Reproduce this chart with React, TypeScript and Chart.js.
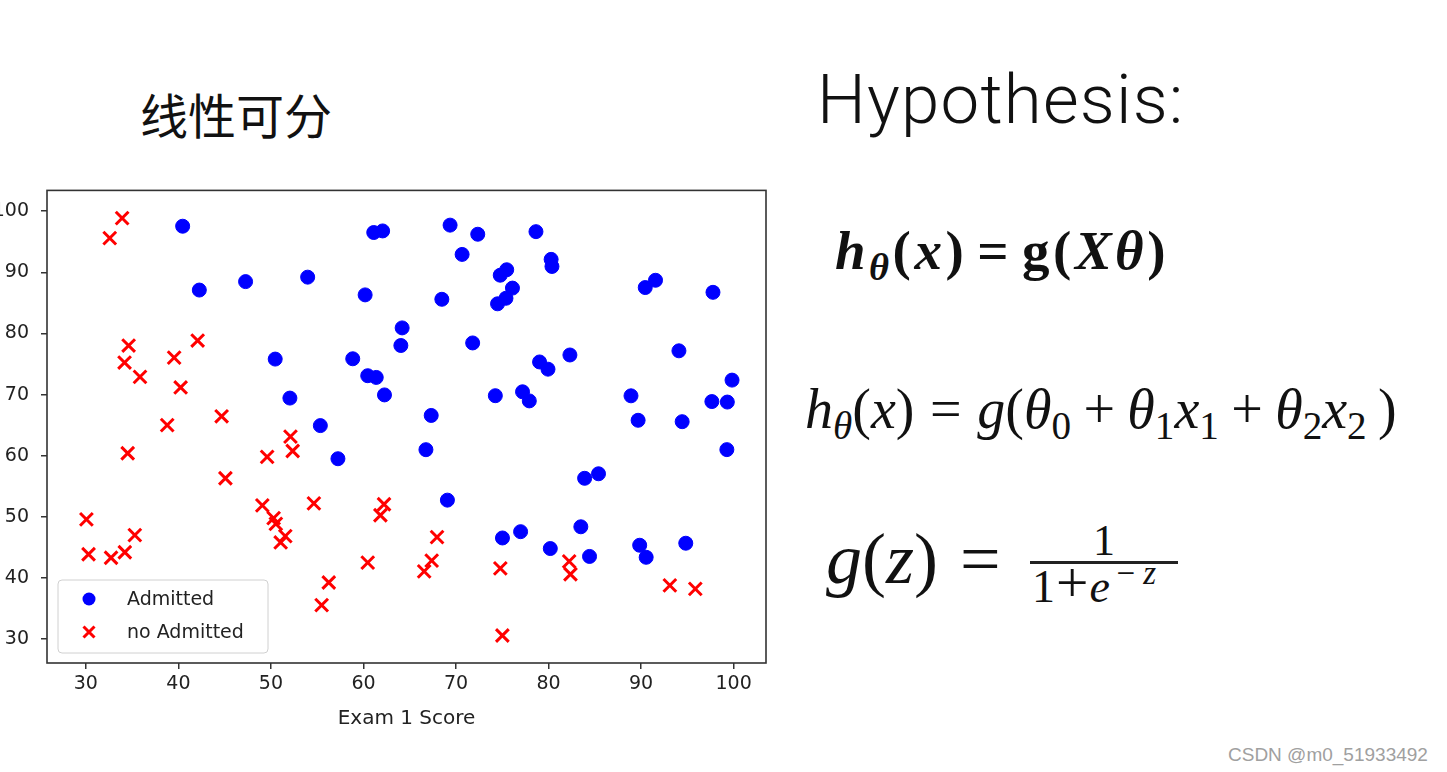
import React, { useEffect, useRef } from "react";
import { Chart, registerables } from "chart.js";

Chart.register(...registerables);

// ---- data (Exam 1 score, Exam 2 score) ----
const admittedExam1 = [
  60.18, 79.03, 61.11, 75.02, 76.1, 84.43, 82.31, 69.36, 53.97, 69.07,
  70.66, 76.98, 89.68, 77.92, 62.27, 80.19, 61.38, 85.4, 52.05, 64.18,
  83.9, 94.44, 77.19, 97.77, 62.07, 91.56, 79.94, 99.27, 90.55, 97.65,
  74.25, 71.8, 75.4, 40.46, 80.28, 66.75, 64.04, 72.35, 60.46, 58.84,
  99.83, 47.26, 50.46, 88.91, 94.83, 67.32, 57.24, 80.37, 68.47, 75.48,
  78.64, 94.09, 90.45, 74.49, 89.85, 83.49, 42.26, 99.32, 55.34, 74.78,
];
const admittedExam2 = [
  86.31, 75.34, 96.51, 46.55, 87.42, 43.53, 76.48, 97.72, 89.21, 52.74,
  92.93, 47.58, 65.8, 68.97, 69.95, 44.82, 72.81, 57.05, 69.43, 80.91,
  56.31, 65.57, 70.46, 86.73, 96.77, 88.7, 74.16, 61.0, 43.39, 68.86,
  69.82, 78.45, 85.76, 97.54, 92.12, 60.99, 78.03, 96.23, 73.09, 75.86,
  72.37, 88.48, 75.81, 69.8, 45.69, 66.59, 59.51, 90.96, 85.59, 90.42,
  96.65, 77.16, 87.51, 84.85, 45.36, 48.38, 87.1, 68.78, 64.93, 89.53,
];
const rejectedExam1 = [
  34.62, 30.29, 35.85, 45.08, 95.86, 75.01, 39.54, 67.95, 67.37, 50.53,
  34.21, 93.11, 61.83, 38.79, 52.11, 40.24, 54.64, 33.92, 74.79, 34.18,
  51.55, 82.37, 51.05, 62.22, 34.52, 50.29, 49.59, 32.58, 35.29, 56.25,
  30.06, 44.67, 66.56, 49.07, 32.72, 60.46, 82.23, 42.08, 52.35, 55.48,
];
const rejectedExam2 = [
  78.02, 43.89, 72.9, 56.32, 38.23, 30.6, 76.04, 46.68, 42.84, 48.86,
  44.21, 38.8, 50.26, 65.0, 63.13, 71.17, 52.21, 98.87, 41.57, 75.24,
  46.86, 40.62, 45.82, 52.06, 60.4, 49.8, 59.81, 95.6, 47.02, 39.26,
  49.59, 66.45, 41.09, 51.88, 43.31, 42.51, 42.72, 78.84, 60.77, 35.57,
];
const seriesLabels = ["Admitted", "no Admitted"];
const xTicks = [30, 40, 50, 60, 70, 80, 90, 100];
const yTicks = [30, 40, 50, 60, 70, 80, 90, 100];
const xAxisTitle = "Exam 1 Score";

const TEXT = "#222222";
const AXIS = "#333333";

const framePlugin = {
  id: "frameAndLegend",
  afterDraw(chart: any) {
    const { ctx, chartArea } = chart;
    ctx.save();
    ctx.strokeStyle = AXIS;
    ctx.lineWidth = 1.6;
    ctx.strokeRect(
      chartArea.left,
      chartArea.top,
      chartArea.right - chartArea.left,
      chartArea.bottom - chartArea.top
    );
    const boxW = 210;
    const boxH = 73;
    const boxL = chartArea.left + 11;
    const boxT = chartArea.bottom - 10 - boxH;
    const r = 4;
    ctx.beginPath();
    ctx.moveTo(boxL + r, boxT);
    ctx.lineTo(boxL + boxW - r, boxT);
    ctx.quadraticCurveTo(boxL + boxW, boxT, boxL + boxW, boxT + r);
    ctx.lineTo(boxL + boxW, boxT + boxH - r);
    ctx.quadraticCurveTo(boxL + boxW, boxT + boxH, boxL + boxW - r, boxT + boxH);
    ctx.lineTo(boxL + r, boxT + boxH);
    ctx.quadraticCurveTo(boxL, boxT + boxH, boxL, boxT + boxH - r);
    ctx.lineTo(boxL, boxT + r);
    ctx.quadraticCurveTo(boxL, boxT, boxL + r, boxT);
    ctx.closePath();
    ctx.fillStyle = "rgba(255,255,255,0.85)";
    ctx.fill();
    ctx.strokeStyle = "#d0d0d0";
    ctx.lineWidth = 1;
    ctx.stroke();
    chart.data.datasets.forEach((ds: any, i: number) => {
      const cx = boxL + 31;
      const cy = boxT + 19 + i * 33;
      if (ds.pointStyle === "circle") {
        ctx.beginPath();
        ctx.arc(cx, cy, 6.5, 0, Math.PI * 2);
        ctx.fillStyle = ds.backgroundColor;
        ctx.fill();
      } else {
        const h = 5.5;
        ctx.beginPath();
        ctx.moveTo(cx - h, cy - h);
        ctx.lineTo(cx + h, cy + h);
        ctx.moveTo(cx - h, cy + h);
        ctx.lineTo(cx + h, cy - h);
        ctx.strokeStyle = ds.borderColor;
        ctx.lineWidth = 3;
        ctx.stroke();
      }
      ctx.fillStyle = TEXT;
      ctx.font = '19px "DejaVu Sans"';
      ctx.textBaseline = "middle";
      ctx.textAlign = "left";
      ctx.fillText(ds.label, boxL + 69, cy + 1);
    });
    ctx.restore();
  },
};

export default function App() {
  const ref = useRef<HTMLCanvasElement>(null);

  useEffect(() => {
    if (!ref.current) return;
    const chart = new Chart(ref.current, {
      type: "scatter",
      data: {
        datasets: [
          {
            label: seriesLabels[0],
            data: admittedExam1.map((x, i) => ({ x, y: admittedExam2[i] })),
            pointStyle: "circle",
            pointRadius: 7,
            borderWidth: 1,
            backgroundColor: "#0000ff",
            borderColor: "#0000ff",
          },
          {
            label: seriesLabels[1],
            data: rejectedExam1.map((x, i) => ({ x, y: rejectedExam2[i] })),
            pointStyle: "crossRot",
            pointRadius: 9,
            borderWidth: 3,
            backgroundColor: "#ff0000",
            borderColor: "#ff0000",
          },
        ],
      } as any,
      options: {
        animation: false,
        responsive: false,
        devicePixelRatio: 1,
        layout: { padding: { top: 10, right: 34, left: 0, bottom: 0 } },
        plugins: {
          legend: { display: false },
          tooltip: { enabled: false },
        },
        scales: {
          x: {
            type: "linear",
            min: 25.8,
            max: 103.5,
            afterBuildTicks: (scale: any) => {
              scale.ticks = xTicks.map((v) => ({ value: v }));
            },
            afterFit: (scale: any) => {
              scale.height = 97;
            },
            border: { display: false },
            grid: {
              display: true,
              drawOnChartArea: false,
              drawTicks: true,
              tickLength: 6,
              tickColor: AXIS,
              lineWidth: 1.5,
            },
            ticks: {
              color: TEXT,
              padding: 4,
              font: { family: '"DejaVu Sans"', size: 19 },
              maxRotation: 0,
            },
            title: {
              display: true,
              text: xAxisTitle,
              color: TEXT,
              font: { family: '"DejaVu Sans"', size: 20 },
              padding: { top: 4, bottom: 29 },
            },
          },
          y: {
            type: "linear",
            min: 26.1,
            max: 103.4,
            afterBuildTicks: (scale: any) => {
              scale.ticks = yTicks.map((v) => ({ value: v }));
            },
            afterFit: (scale: any) => {
              scale.width = 47;
            },
            border: { display: false },
            grid: {
              display: true,
              drawOnChartArea: false,
              drawTicks: true,
              tickLength: 6,
              tickColor: AXIS,
              lineWidth: 1.5,
            },
            ticks: {
              color: TEXT,
              padding: 12,
              font: { family: '"DejaVu Sans"', size: 19 },
            },
          },
        },
      } as any,
      plugins: [framePlugin],
    });
    return () => chart.destroy();
  }, []);

  const sub: React.CSSProperties = {
    fontSize: "0.7em",
    position: "relative",
    top: "0.28em",
  };
  const serif = '"Liberation Serif", "DejaVu Serif", serif';

  return (
    <div
      style={{
        position: "absolute",
        left: 0,
        top: 0,
        width: 1447,
        height: 772,
        background: "#ffffff",
        overflow: "hidden",
        color: "#111",
      }}
    >
      <div
        style={{
          position: "absolute",
          left: 140,
          top: 89,
          fontFamily: '"Noto Sans CJK SC", sans-serif',
          fontSize: 48,
          lineHeight: "48px",
          whiteSpace: "nowrap",
        }}
      >
        线性可分
      </div>

      <div
        style={{
          position: "absolute",
          left: 817,
          top: 65,
          fontFamily: 'Roboto, "Liberation Sans", sans-serif',
          fontWeight: 300,
          fontSize: 69,
          letterSpacing: 1.2,
          lineHeight: 1,
          whiteSpace: "nowrap",
        }}
      >
        Hypothesis:
      </div>

      {/* h_theta(x) = g(X theta) */}
      <div
        style={{
          position: "absolute",
          left: 835,
          top: 223,
          fontFamily: serif,
          fontSize: 55,
          fontWeight: "bold",
          letterSpacing: 3.5,
          lineHeight: 1,
          whiteSpace: "nowrap",
        }}
      >
        <i>h</i>
        <i style={sub}>θ</i>(<i>x</i>)<span style={{ margin: "0 10px" }}>=</span>g(
        <i>Xθ</i>)
      </div>

      {/* h_theta(x) = g(theta0 + theta1 x1 + theta2 x2) */}
      <div
        style={{
          position: "absolute",
          left: 805,
          top: 381,
          fontFamily: serif,
          fontSize: 56,
          lineHeight: 1,
          whiteSpace: "nowrap",
        }}
      >
        <i>h</i>
        <i style={sub}>θ</i>(<i>x</i>)
        <span style={{ margin: "0 0.28em" }}>=</span>
        <i>g</i>(<i>θ</i>
        <span style={sub}>0</span>
        <span style={{ margin: "0 0.22em" }}>+</span>
        <i>θ</i>
        <span style={sub}>1</span>
        <i>x</i>
        <span style={sub}>1</span>
        <span style={{ margin: "0 0.22em" }}>+</span>
        <i>θ</i>
        <span style={sub}>2</span>
        <i>x</i>
        <span style={sub}>2</span>
        <span style={{ marginLeft: "0.2em" }}>)</span>
      </div>

      {/* g(z) = 1 / (1 + e^-z) */}
      <div
        style={{
          position: "absolute",
          left: 826,
          top: 523,
          fontFamily: serif,
          fontSize: 72,
          lineHeight: 1,
          whiteSpace: "nowrap",
        }}
      >
        <i>g</i>(<i>z</i>)<span style={{ marginLeft: 22 }}>=</span>
      </div>
      <div
        style={{
          position: "absolute",
          left: 1030,
          top: 519,
          width: 148,
          textAlign: "center",
          fontFamily: serif,
          fontSize: 44,
          lineHeight: 1,
        }}
      >
        1
      </div>
      <div
        style={{
          position: "absolute",
          left: 1030,
          top: 561,
          width: 148,
          height: 3,
          background: "#222",
        }}
      />
      <div
        style={{
          position: "absolute",
          left: 1032,
          top: 564,
          fontFamily: serif,
          fontSize: 46,
          lineHeight: 1,
          whiteSpace: "nowrap",
        }}
      >
        1<span style={{ margin: "0 1px", fontSize: "1.25em", lineHeight: 0 }}>+</span>
        <i>e</i>
        <span
          style={{
            fontSize: "0.72em",
            position: "relative",
            top: "-0.55em",
            marginLeft: "0.2em",
            letterSpacing: 8,
          }}
        >
          −<i>z</i>
        </span>
      </div>

      <div
        style={{
          position: "absolute",
          left: 1228,
          top: 745,
          fontFamily: '"Liberation Sans", Arial, sans-serif',
          fontSize: 19,
          lineHeight: 1,
          color: "#a0a0a0",
          whiteSpace: "nowrap",
        }}
      >
        CSDN @m0_51933492
      </div>

      <div style={{ position: "absolute", left: 0, top: 167, width: 800, height: 593 }}>
        <canvas ref={ref} width={800} height={593} style={{ display: "block", width: 800, height: 593 }} />
      </div>
    </div>
  );
}
